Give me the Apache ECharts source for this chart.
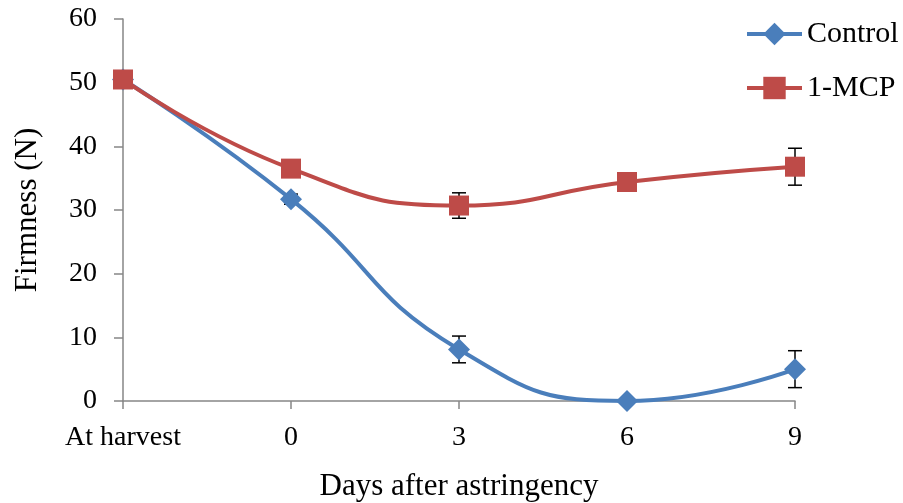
<!DOCTYPE html>
<html>
<head>
<meta charset="utf-8">
<script src="https://cdn.jsdelivr.net/npm/echarts@6/dist/echarts.min.js"></script>
<style>html,body{margin:0;padding:0;background:#fff}#c{width:903px;height:503px}</style>
</head>
<body>
<div id="c"></div>
<script>
const categories = ['At harvest', '0', '3', '6', '9'];
const controlValues = [50.5, 31.7, 8.1, 0.0, 5.0];
const controlErrors = [0.3, 0.8, 2.1, 0.0, 2.9];
const mcpValues = [50.5, 36.5, 30.7, 34.4, 36.8];
const mcpErrors = [0.3, 0.5, 2.0, 0.5, 2.9];
const yTicks = [0, 10, 20, 30, 40, 50, 60];

const FONT = '"Liberation Serif", "Times New Roman", serif';
const BLUE = '#4A7EBB';
const RED = '#BE4B48';
const AXIS = '#868686';

function errData(vals, errs) {
  return vals.map((v, i) => [i, v, errs[i]]);
}
function errRender(params, api) {
  const x = api.value(0), v = api.value(1), e = api.value(2);
  const top = api.coord([x, v + e]);
  const bot = api.coord([x, v - e]);
  const hw = 7;
  const style = { stroke: '#000', lineWidth: 1.5 };
  return {
    type: 'group',
    children: [
      { type: 'line', shape: { x1: top[0], y1: top[1], x2: bot[0], y2: bot[1] }, style },
      { type: 'line', shape: { x1: top[0] - hw, y1: top[1], x2: top[0] + hw, y2: top[1] }, style },
      { type: 'line', shape: { x1: bot[0] - hw, y1: bot[1], x2: bot[0] + hw, y2: bot[1] }, style }
    ]
  };
}

const chart = echarts.init(document.getElementById('c'));
chart.setOption({
  animation: false,
  backgroundColor: '#fff',
  textStyle: { fontFamily: FONT },
  grid: { left: 123, right: 108, top: 19, bottom: 102, containLabel: false, outerBoundsMode: 'none' },
  legend: {
    orient: 'vertical',
    left: 745,
    top: 19,
    padding: 0,
    itemWidth: 55,
    itemHeight: 28,
    itemGap: 24,
    data: ['Control', '1-MCP'],
    lineStyle: { width: 4 },
    textStyle: { fontFamily: FONT, fontSize: 30, color: '#000', lineHeight: 30 }
  },
  xAxis: {
    type: 'category',
    data: categories,
    boundaryGap: false,
    axisLine: { lineStyle: { color: AXIS, width: 1.5 } },
    axisTick: { show: true, length: 8, alignWithLabel: true, lineStyle: { color: AXIS, width: 1.5 } },
    axisLabel: { fontFamily: FONT, fontSize: 28, color: '#000', margin: 23, interval: 0 },
    splitLine: { show: false },
    name: 'Days after astringency',
    nameLocation: 'middle',
    nameGap: 70,
    nameTextStyle: { fontFamily: FONT, fontSize: 31, color: '#000' }
  },
  yAxis: {
    type: 'value',
    min: 0,
    max: 60,
    interval: 10,
    axisLine: { show: true, lineStyle: { color: AXIS, width: 1.5 } },
    axisTick: { show: true, length: 9, lineStyle: { color: AXIS, width: 1.5 } },
    axisLabel: { fontFamily: FONT, fontSize: 28, color: '#000', margin: 26,
      formatter: v => yTicks.includes(v) ? String(v) : '' },
    splitLine: { show: false },
    name: 'Firmness (N)',
    nameLocation: 'middle',
    nameGap: 80,
    nameTextStyle: { fontFamily: FONT, fontSize: 31, color: '#000' }
  },
  series: [
    {
      type: 'custom', name: 'errC', renderItem: errRender, data: errData(controlValues, controlErrors),
      z: 1, silent: true, encode: { x: 0, y: 1 }
    },
    {
      type: 'custom', name: 'errM', renderItem: errRender, data: errData(mcpValues, mcpErrors),
      z: 1, silent: true, encode: { x: 0, y: 1 }
    },
    {
      name: 'Control', type: 'line', data: controlValues, smooth: 0.5,
      symbol: 'diamond', symbolSize: 22,
      lineStyle: { color: BLUE, width: 4 },
      itemStyle: { color: BLUE },
      z: 3
    },
    {
      name: '1-MCP', type: 'line', data: mcpValues, smooth: 0.5,
      symbol: 'rect', symbolSize: 20,
      lineStyle: { color: RED, width: 4 },
      itemStyle: { color: RED },
      z: 4
    }
  ]
});
</script>
</body>
</html>
